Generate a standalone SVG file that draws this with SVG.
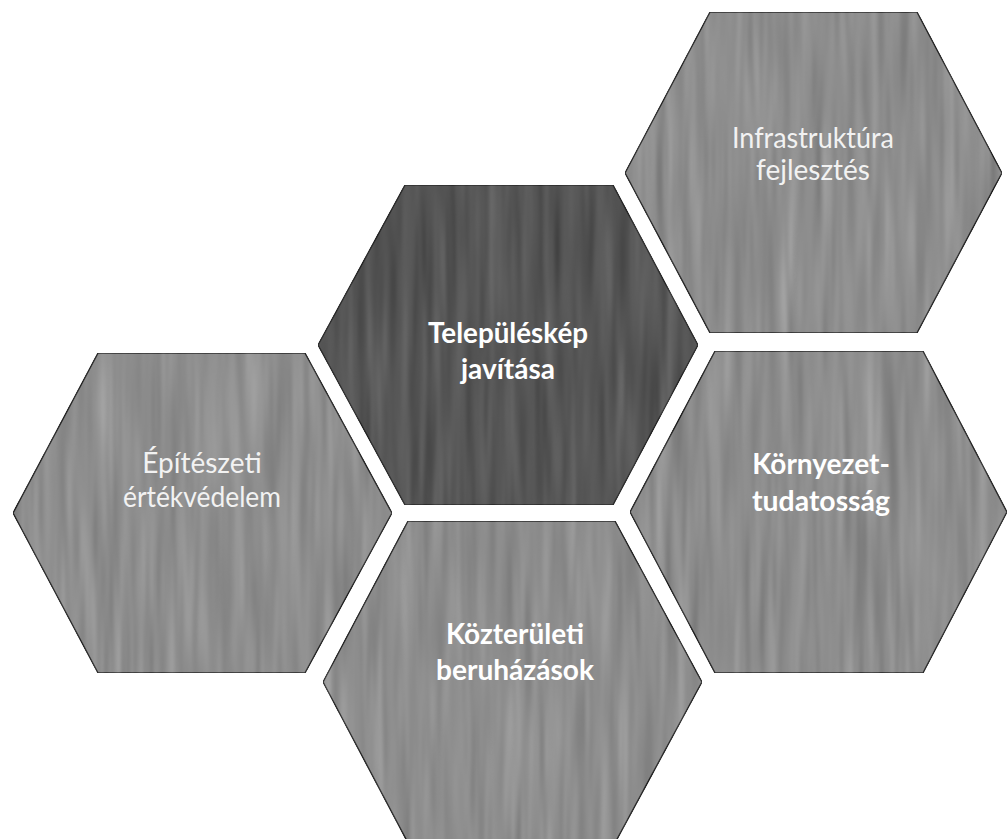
<svg xmlns="http://www.w3.org/2000/svg" width="1008" height="839" viewBox="0 0 1008 839">
  <style>
    .hex { stroke: #2e2e2e; stroke-width: 1.5; filter: url(#tex); }
    .mid { fill: #8e8e8e; }
    .dark { fill: #575757; }
    .lbl { font-family: Lato, "Open Sans", "Liberation Sans", sans-serif; font-size: 28px; fill: #ffffff; text-anchor: middle; }
    .reg { font-weight: normal; fill: #f2f2f2; }
    .bold { font-weight: bold; }
  </style>
  <defs>
    <filter id="tex" x="0" y="0" width="1" height="1" color-interpolation-filters="sRGB">
      <feTurbulence type="fractalNoise" baseFrequency="0.09 0.006" numOctaves="2" seed="7" result="n"/>
      <feColorMatrix in="n" type="matrix" values="0.33 0.33 0.33 0 0  0.33 0.33 0.33 0 0  0.33 0.33 0.33 0 0  0 0 0 0 1" result="g"/>
      <feComposite in="SourceGraphic" in2="g" operator="arithmetic" k1="0" k2="1" k3="0.35" k4="-0.175" result="m"/>
      <feComposite in="m" in2="SourceAlpha" operator="in"/>
    </filter>
  </defs>
  <rect x="0" y="0" width="1008" height="839" fill="#ffffff"/>
  <g id="connectors"></g>
  <g id="infrastruktura">
    <polygon class="hex mid" points="710,12 917,12 1002,173 917,333 710,333 625,173"/>
    <text class="lbl reg" x="813" y="148" textLength="162" lengthAdjust="spacingAndGlyphs">Infrastruktúra</text>
    <text class="lbl reg" x="813" y="180">fejlesztés</text>
  </g>
  <g id="telepuleskep">
    <polygon class="hex dark" points="405,185 613,185 698,345 613,505 405,505 318,345"/>
    <text class="lbl bold" x="508" y="343" textLength="160" lengthAdjust="spacingAndGlyphs">Településkép</text>
    <text class="lbl bold" x="508" y="379">javítása</text>
  </g>
  <g id="epiteszeti">
    <polygon class="hex mid" points="98,353 305,353 392,513 305,673 98,673 13,513"/>
    <text class="lbl reg" x="202" y="473">Építészeti</text>
    <text class="lbl reg" x="202" y="507" textLength="158" lengthAdjust="spacingAndGlyphs">értékvédelem</text>
  </g>
  <g id="kozteruleti">
    <polygon class="hex mid" points="408,521 615,521 702,682 615,843 408,843 323,682"/>
    <text class="lbl bold" x="515" y="644">Közterületi</text>
    <text class="lbl bold" x="515" y="680" textLength="158" lengthAdjust="spacingAndGlyphs">beruházások</text>
  </g>
  <g id="kornyezet">
    <polygon class="hex mid" points="715,351 923,351 1007,512 923,673 715,673 630,512"/>
    <text class="lbl bold" x="821" y="474">Környezet-</text>
    <text class="lbl bold" x="821" y="511" textLength="138" lengthAdjust="spacingAndGlyphs">tudatosság</text>
  </g>
</svg>
